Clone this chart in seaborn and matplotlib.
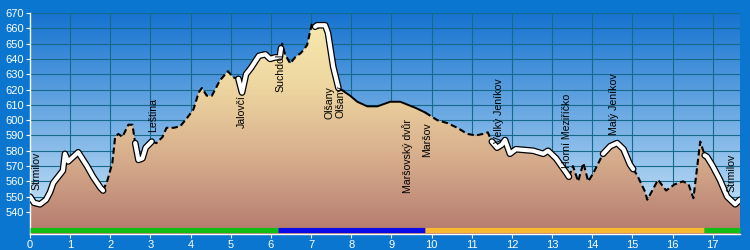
import numpy as np
import pandas as pd
import matplotlib
matplotlib.use("Agg")
import matplotlib.pyplot as plt
import matplotlib.patheffects as pe
from matplotlib.colors import LinearSegmentedColormap
import seaborn as sns

plt.rcParams['font.family'] = ['Liberation Sans', 'DejaVu Sans']

# ---- data ----
dist_km = [0.00, 0.10, 0.25, 0.40, 0.50, 0.58, 0.82, 0.87, 0.95, 1.20, 1.42, 1.57, 1.75, 1.82,
           1.92, 2.05, 2.12, 2.20, 2.30, 2.45, 2.55, 2.62, 2.70, 2.80, 2.88, 3.03, 3.15, 3.30,
           3.40, 3.58, 3.74, 3.90, 4.07, 4.20, 4.28, 4.40, 4.53, 4.73, 4.93, 5.05, 5.19, 5.28,
           5.38, 5.50, 5.70, 5.86, 5.98, 6.10, 6.22, 6.25, 6.28, 6.35, 6.48, 6.60, 6.75, 6.90,
           7.02, 7.10, 7.15, 7.35, 7.42, 7.55, 7.68, 7.80, 7.97, 8.15, 8.40, 8.65, 8.97, 9.22,
           9.60, 9.84, 10.14, 10.40, 10.64, 10.89, 11.10, 11.28, 11.40, 11.50, 11.63, 11.75,
           11.83, 11.95, 12.10, 12.53, 12.78, 12.90, 13.10, 13.37, 13.42, 13.52, 13.65, 13.78,
           13.90, 14.02, 14.27, 14.45, 14.62, 14.78, 14.94, 15.02, 15.12, 15.32, 15.37, 15.64,
           15.84, 16.05, 16.26, 16.40, 16.52, 16.69, 16.80, 16.86, 17.00, 17.18, 17.36, 17.56,
           17.68]
elev_m = [550, 546, 545, 548, 553, 559, 567, 578, 573, 579, 570, 563, 556, 554,
          560, 572, 589, 591, 589, 597, 597, 585, 574, 575, 582, 586, 585, 589,
          595, 595, 596, 601, 607, 618, 621, 616, 616, 626, 632, 628, 627, 618,
          630, 634, 642, 643, 640, 641, 641, 647, 650, 643, 637, 641, 644, 649,
          663, 661, 662, 662, 657, 635, 621, 619, 616, 612, 609, 609, 612, 612,
          608, 605, 600, 598, 595, 591, 590, 591, 592, 586, 582, 584,
          587, 578, 581, 580, 578, 580, 575, 565, 563, 570, 560, 572,
          560, 565, 578, 583, 585, 581, 571, 568, 564, 553, 548, 561,
          554, 558, 560, 558, 549, 586, 577, 576, 570, 561, 550, 545,
          548]

# path surface segments: start, end, kind
seg_start = [0.00, 1.82, 2.62, 3.03, 5.19, 6.25, 7.10, 7.68, 9.84, 11.50, 13.42, 14.27, 15.02, 16.80]
seg_end   = [1.82, 2.62, 3.03, 5.19, 6.25, 7.10, 7.68, 9.84, 11.50, 13.42, 14.27, 15.02, 16.80, 17.68]
seg_kind  = ['road', 'path', 'road', 'path', 'road', 'path', 'road', 'solid', 'path', 'road',
             'path', 'road', 'path', 'road']

# coloured route bar
bar_start = [0.0, 6.18, 9.84, 16.79]
bar_end = [6.18, 9.84, 16.79, 17.68]
bar_colors = ['#12BE12', '#0A0AE6', '#F8B830', '#12BE12']

# place labels
place_names = ['Strmilov', 'Leština', 'Jalovčí', 'Suchdol', 'Olšany', 'Olšany',
               'Maršovský dvůr', 'Maršov', 'Velký Jeníkov', 'Horní Meziříčko',
               'Malý Jeníkov', 'Strmilov']
place_km = [0.17, 3.06, 5.28, 6.23, 7.47, 7.73, 9.41, 9.89, 11.68, 13.37, 14.55, 17.48]
place_y = [554.5, 592.3, 594.9, 618.4, 600.8, 601.5, 552.4, 576.0, 585.0, 568.8, 590.3, 553.0]

y_ticks = list(range(540, 671, 10))
x_ticks = list(range(0, 18))

YMIN, YMAX = 525.6, 670.0
XMAX = 17.68

df = pd.DataFrame({'km': dist_km, 'elev': elev_m})

fig = plt.figure(figsize=(7.5, 2.5), dpi=100)
fig.patch.set_facecolor('#0B76D0')
ax = fig.add_axes([30/750, 1-234/250, 710/750, (234-13)/250])
ax.set_xlim(0, XMAX)
ax.set_ylim(YMIN, YMAX)

# sky gradient
sky = LinearSegmentedColormap.from_list('sky', ['#D4EBFA', '#1673D0'])
grad = np.linspace(0, 1, 256).reshape(-1, 1)
ax.imshow(grad, extent=[0, XMAX, YMIN, YMAX], origin='lower', aspect='auto',
          cmap=sky, zorder=0, interpolation='bicubic')

# grid
for yt in y_ticks:
    ax.axhline(yt, color='#15698A', lw=0.8, zorder=1)
for xt in x_ticks[1:]:
    ax.axvline(xt, color='#15698A', lw=0.8, zorder=1)

# terrain fill with gradient
poly = ax.fill_between(df['km'], df['elev'], YMIN, color='none', zorder=2)
earth = LinearSegmentedColormap.from_list('earth', ['#B47A6E', '#D6AC8C', '#EED6A0', '#F8ECB0'])
img = ax.imshow(grad, extent=[0, XMAX, YMIN, YMAX], origin='lower', aspect='auto',
                cmap=earth, zorder=2, interpolation='bicubic')
path = poly.get_paths()[0]
img.set_clip_path(path, transform=ax.transData)

# profile line segments
for s, e, kind in zip(seg_start, seg_end, seg_kind):
    sub = df[(df['km'] >= s - 1e-9) & (df['km'] <= e + 1e-9)]
    if kind == 'road':
        sns.lineplot(data=sub, x='km', y='elev', ax=ax, color='white', lw=3.0,
                     solid_capstyle='round', solid_joinstyle='round', zorder=5,
                     path_effects=[pe.Stroke(linewidth=4.8, foreground='black'), pe.Normal()])
    elif kind == 'path':
        sns.lineplot(data=sub, x='km', y='elev', ax=ax, color='black', lw=1.5,
                     linestyle=(0, (3, 1.6)), zorder=4)
    else:
        sns.lineplot(data=sub, x='km', y='elev', ax=ax, color='black', lw=1.4, zorder=4)

# route bar
ax.hlines([527.9] * len(bar_start), bar_start, bar_end, colors=bar_colors, lw=3.7,
          zorder=6, clip_on=False)

# place labels
for name, xk, yk in zip(place_names, place_km, place_y):
    ax.text(xk, yk, name, rotation=90, ha='center', va='bottom', fontsize=7.6,
            color='black', zorder=7)

# axes styling
ax.set_xticks(x_ticks)
ax.set_yticks(y_ticks)
ax.set_xlabel('')
ax.set_ylabel('')
ax.tick_params(axis='both', colors='white', labelcolor='white', labelsize=8,
               length=3, width=0.8, direction='out', pad=1.5)
for sp in ['top', 'right']:
    ax.spines[sp].set_visible(False)
for sp in ['left', 'bottom']:
    ax.spines[sp].set_color('white')
    ax.spines[sp].set_linewidth(1.0)
ax.grid(False)

fig.savefig('out.png', dpi=100, facecolor=fig.get_facecolor())
